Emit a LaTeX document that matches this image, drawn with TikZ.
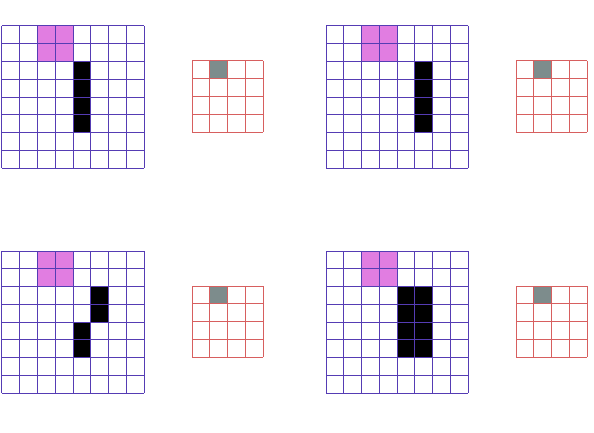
\documentclass[tikz,border=0pt]{standalone}
\usetikzlibrary{positioning}
\definecolor{gridblue}{RGB}{85,60,180}
\definecolor{gridred}{RGB}{215,95,95}
\definecolor{poolpink}{RGB}{225,125,225}
\definecolor{outgray}{RGB}{125,140,140}

\begin{document}
\begin{tikzpicture}[x=0.5cm,y=-0.5cm,
  inputline/.style={draw=gridblue,line width=0.8pt},
  outputline/.style={draw=gridred,line width=0.8pt},
  poolcell/.style={fill=poolpink},
  strokecell/.style={fill=black},
  outcell/.style={fill=outgray}
]
\useasboundingbox (0,0) rectangle (33.41,24.30);

% one panel per input pattern: 8x8 input grid and 4x4 output grid
\foreach \px/\py/\cells in {0.11/1.46/{4/2,4/3,4/4,4/5},
                            18.34/1.46/{5/2,5/3,5/4,5/5},
                            0.11/14.12/{5/2,5/3,4/4,4/5},
                            18.34/14.12/{4/2,4/3,4/4,4/5,5/2,5/3,5/4,5/5}}{
  \begin{scope}[shift={(\px,\py)}]
    % pooling window
    \fill[poolcell] (2,0) rectangle (4,2);
    % stroke
    \foreach \i/\j in \cells
      \fill[strokecell] (\i,\j) rectangle ++(1,1);
    \foreach \k in {0,...,8}{
      \draw[inputline] (\k,0) -- (\k,8);
      \draw[inputline] (0,\k) -- (8,\k);
    }
  \end{scope}
  \begin{scope}[shift={(\px+10.69,\py+1.97)}]
    \fill[outcell] (1,0) rectangle (2,1);
    \foreach \k in {0,...,4}{
      \draw[outputline] (\k,0) -- (\k,4);
      \draw[outputline] (0,\k) -- (4,\k);
    }
  \end{scope}
}
\end{tikzpicture}
\end{document}
